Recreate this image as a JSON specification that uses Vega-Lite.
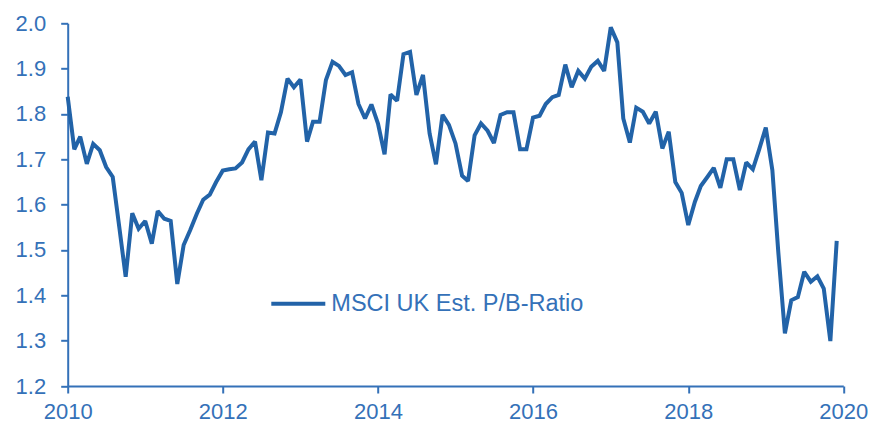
{
  "$schema": "https://vega.github.io/schema/vega-lite/v6.json",
  "width": 775.6,
  "height": 362.7,
  "autosize": {"type": "none"},
  "padding": {"left": 67.7, "top": 23.3, "right": 41.7, "bottom": 37},
  "background": "white",
  "config": {
    "view": {"stroke": null},
    "font": "Liberation Sans"
  },
  "data": {
    "values": [
      {"date": "2010-01-01", "pb": 1.838}, {"date": "2010-02-01", "pb": 1.722}, {"date": "2010-03-01", "pb": 1.75}, {"date": "2010-04-01", "pb": 1.69},
      {"date": "2010-05-01", "pb": 1.734}, {"date": "2010-06-01", "pb": 1.72}, {"date": "2010-07-01", "pb": 1.683}, {"date": "2010-08-01", "pb": 1.661},
      {"date": "2010-09-01", "pb": 1.55}, {"date": "2010-10-01", "pb": 1.441}, {"date": "2010-11-01", "pb": 1.581}, {"date": "2010-12-01", "pb": 1.547},
      {"date": "2011-01-01", "pb": 1.564}, {"date": "2011-02-01", "pb": 1.514}, {"date": "2011-03-01", "pb": 1.586}, {"date": "2011-04-01", "pb": 1.569},
      {"date": "2011-05-01", "pb": 1.564}, {"date": "2011-06-01", "pb": 1.425}, {"date": "2011-07-01", "pb": 1.511}, {"date": "2011-08-01", "pb": 1.544},
      {"date": "2011-09-01", "pb": 1.58}, {"date": "2011-10-01", "pb": 1.611}, {"date": "2011-11-01", "pb": 1.622}, {"date": "2011-12-01", "pb": 1.65},
      {"date": "2012-01-01", "pb": 1.675}, {"date": "2012-02-01", "pb": 1.678}, {"date": "2012-03-01", "pb": 1.68}, {"date": "2012-04-01", "pb": 1.693},
      {"date": "2012-05-01", "pb": 1.722}, {"date": "2012-06-01", "pb": 1.739}, {"date": "2012-07-01", "pb": 1.654}, {"date": "2012-08-01", "pb": 1.759},
      {"date": "2012-09-01", "pb": 1.757}, {"date": "2012-10-01", "pb": 1.804}, {"date": "2012-11-01", "pb": 1.878}, {"date": "2012-12-01", "pb": 1.859},
      {"date": "2013-01-01", "pb": 1.876}, {"date": "2013-02-01", "pb": 1.739}, {"date": "2013-03-01", "pb": 1.783}, {"date": "2013-04-01", "pb": 1.783},
      {"date": "2013-05-01", "pb": 1.875}, {"date": "2013-06-01", "pb": 1.915}, {"date": "2013-07-01", "pb": 1.906}, {"date": "2013-08-01", "pb": 1.886},
      {"date": "2013-09-01", "pb": 1.892}, {"date": "2013-10-01", "pb": 1.822}, {"date": "2013-11-01", "pb": 1.79}, {"date": "2013-12-01", "pb": 1.821},
      {"date": "2014-01-01", "pb": 1.779}, {"date": "2014-02-01", "pb": 1.711}, {"date": "2014-03-01", "pb": 1.843}, {"date": "2014-04-01", "pb": 1.829},
      {"date": "2014-05-01", "pb": 1.932}, {"date": "2014-06-01", "pb": 1.937}, {"date": "2014-07-01", "pb": 1.842}, {"date": "2014-08-01", "pb": 1.886},
      {"date": "2014-09-01", "pb": 1.757}, {"date": "2014-10-01", "pb": 1.689}, {"date": "2014-11-01", "pb": 1.798}, {"date": "2014-12-01", "pb": 1.776},
      {"date": "2015-01-01", "pb": 1.735}, {"date": "2015-02-01", "pb": 1.664}, {"date": "2015-03-01", "pb": 1.652}, {"date": "2015-04-01", "pb": 1.753},
      {"date": "2015-05-01", "pb": 1.779}, {"date": "2015-06-01", "pb": 1.763}, {"date": "2015-07-01", "pb": 1.736}, {"date": "2015-08-01", "pb": 1.798},
      {"date": "2015-09-01", "pb": 1.804}, {"date": "2015-10-01", "pb": 1.804}, {"date": "2015-11-01", "pb": 1.722}, {"date": "2015-12-01", "pb": 1.722},
      {"date": "2016-01-01", "pb": 1.792}, {"date": "2016-02-01", "pb": 1.796}, {"date": "2016-03-01", "pb": 1.822}, {"date": "2016-04-01", "pb": 1.837},
      {"date": "2016-05-01", "pb": 1.842}, {"date": "2016-06-01", "pb": 1.909}, {"date": "2016-07-01", "pb": 1.859}, {"date": "2016-08-01", "pb": 1.895},
      {"date": "2016-09-01", "pb": 1.878}, {"date": "2016-10-01", "pb": 1.904}, {"date": "2016-11-01", "pb": 1.917}, {"date": "2016-12-01", "pb": 1.895},
      {"date": "2017-01-01", "pb": 1.991}, {"date": "2017-02-01", "pb": 1.958}, {"date": "2017-03-01", "pb": 1.79}, {"date": "2017-04-01", "pb": 1.737},
      {"date": "2017-05-01", "pb": 1.814}, {"date": "2017-06-01", "pb": 1.805}, {"date": "2017-07-01", "pb": 1.779}, {"date": "2017-08-01", "pb": 1.805},
      {"date": "2017-09-01", "pb": 1.724}, {"date": "2017-10-01", "pb": 1.761}, {"date": "2017-11-01", "pb": 1.65}, {"date": "2017-12-01", "pb": 1.626},
      {"date": "2018-01-01", "pb": 1.555}, {"date": "2018-02-01", "pb": 1.606}, {"date": "2018-03-01", "pb": 1.641}, {"date": "2018-04-01", "pb": 1.661},
      {"date": "2018-05-01", "pb": 1.681}, {"date": "2018-06-01", "pb": 1.637}, {"date": "2018-07-01", "pb": 1.7}, {"date": "2018-08-01", "pb": 1.7},
      {"date": "2018-09-01", "pb": 1.632}, {"date": "2018-10-01", "pb": 1.693}, {"date": "2018-11-01", "pb": 1.678}, {"date": "2018-12-01", "pb": 1.722},
      {"date": "2019-01-01", "pb": 1.77}, {"date": "2019-02-01", "pb": 1.676}, {"date": "2019-03-01", "pb": 1.495}, {"date": "2019-04-01", "pb": 1.316},
      {"date": "2019-05-01", "pb": 1.389}, {"date": "2019-06-01", "pb": 1.396}, {"date": "2019-07-01", "pb": 1.452}, {"date": "2019-08-01", "pb": 1.43},
      {"date": "2019-09-01", "pb": 1.442}, {"date": "2019-10-01", "pb": 1.415}, {"date": "2019-11-01", "pb": 1.299}, {"date": "2019-12-01", "pb": 1.52}
    ]
  },
  "mark": {"type": "line", "strokeWidth": 4, "strokeJoin": "miter", "strokeMiterLimit": 2, "clip": false},
  "encoding": {
    "x": {
      "field": "date",
      "type": "temporal",
      "scale": {
        "type": "utc",
        "domain": [
          {"year": 2010, "month": 1, "date": 1, "utc": true},
          {"year": 2020, "month": 1, "date": 1, "utc": true}
        ]
      },
      "axis": {
        "title": null,
        "grid": false,
        "values": [
          {"year": 2010, "month": 1, "date": 1, "utc": true},
          {"year": 2012, "month": 1, "date": 1, "utc": true},
          {"year": 2014, "month": 1, "date": 1, "utc": true},
          {"year": 2016, "month": 1, "date": 1, "utc": true},
          {"year": 2018, "month": 1, "date": 1, "utc": true},
          {"year": 2020, "month": 1, "date": 1, "utc": true}
        ],
        "format": "%Y",
        "formatType": "utc",
        "domainColor": "#3471b8",
        "domainWidth": 2,
        "tickColor": "#3471b8",
        "tickWidth": 2,
        "tickSize": 7,
        "labelColor": "#3471b8",
        "labelFont": "Liberation Sans",
        "labelFontSize": 22,
        "labelPadding": 8,
        "labelFlush": false,
        "labelOverlap": false
      }
    },
    "y": {
      "field": "pb",
      "type": "quantitative",
      "scale": {"domain": [1.2, 2.0], "zero": false, "nice": false},
      "axis": {
        "title": null,
        "grid": false,
        "values": [1.2, 1.3, 1.4, 1.5, 1.6, 1.7, 1.8, 1.9, 2.0],
        "format": ".1f",
        "domainColor": "#3471b8",
        "domainWidth": 2,
        "tickColor": "#3471b8",
        "tickWidth": 2,
        "tickSize": 7,
        "labelColor": "#3471b8",
        "labelFont": "Liberation Sans",
        "labelFontSize": 22,
        "labelPadding": 15,
        "labelFlush": false,
        "labelOverlap": false
      }
    },
    "color": {
      "datum": "MSCI UK Est. P/B-Ratio",
      "type": "nominal",
      "scale": {"range": ["#2263a8"]},
      "legend": {
        "title": null,
        "orient": "none",
        "legendX": 201.6,
        "legendY": 251.4,
        "padding": 0,
        "symbolType": "stroke",
        "symbolSize": 2916,
        "symbolStrokeWidth": 4,
        "labelFont": "Liberation Sans",
        "labelFontSize": 23.5,
        "labelColor": "#3471b8",
        "labelOffset": 4,
        "labelLimit": 500
      }
    }
  }
}
